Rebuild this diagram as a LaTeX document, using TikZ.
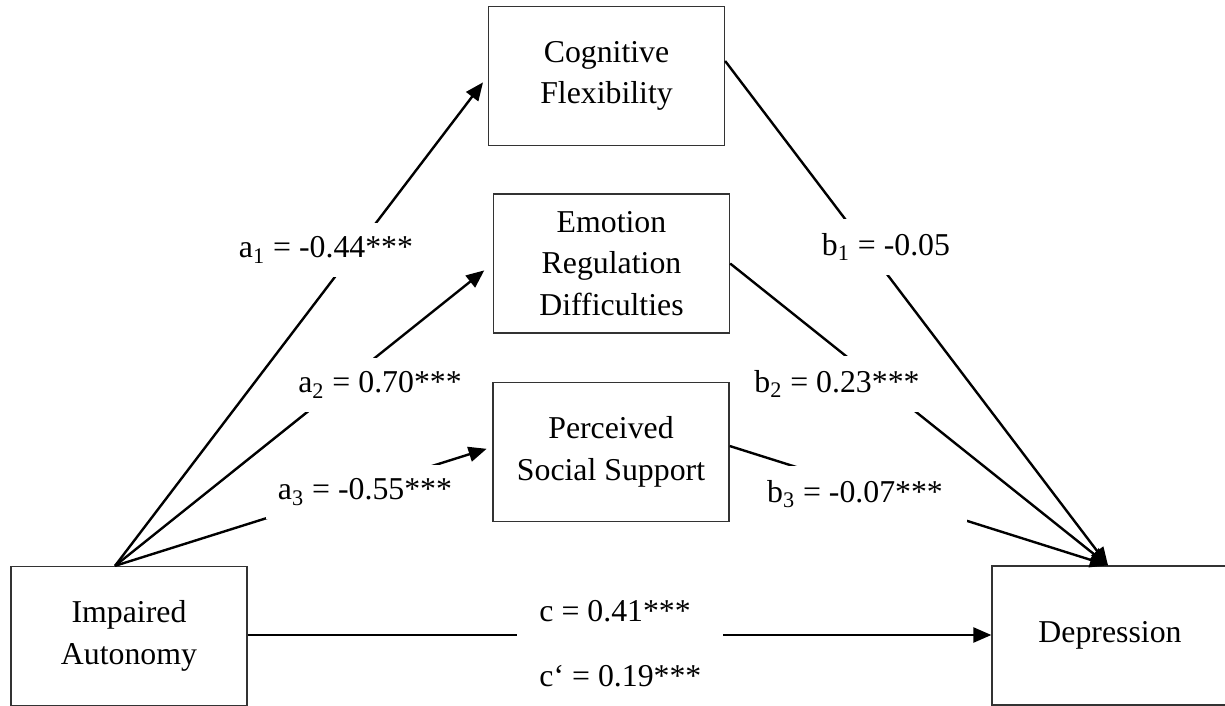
\documentclass[tikz,border=0pt]{standalone}
\usepackage{fontspec}
\setmainfont{Liberation Serif}
\usetikzlibrary{arrows.meta}
\begin{document}
\begin{tikzpicture}[x=0.5pt,y=-0.5pt,
  every node/.style={font=\fontsize{15.9}{20.8}\selectfont},
  varbox/.style={draw=black!80, line width=0.65pt, minimum width=118pt, minimum height=69.5pt, align=center, inner sep=0pt},
  effect/.style={line width=1.2pt, -{Triangle[length=9pt,width=7.5pt]}},
  lab/.style={fill=white, inner xsep=6pt, inner ysep=7pt}]
\useasboundingbox (0,0) rectangle (1225,706);
% variables
\node[varbox] (ia)  at (129,636)   {Impaired\\Autonomy};
\node[varbox] (cf)  at (606.5,76)  {Cognitive\\Flexibility};
\node[varbox] (erd) at (611.5,263.5) {Emotion\\Regulation\\Difficulties};
\node[varbox] (pss) at (611,452)   {Perceived\\Social Support};
\node[varbox] (dep) at (1110,635.5) {Depression};
% anchor points
\coordinate (src) at ([xshift=-7pt]ia.north);
\coordinate (tip) at ([xshift=-1pt]dep.north);
% a paths
\draw[effect, shorten >=4pt] (src) -- (cf.west);
\draw[effect, shorten >=5.5pt] (src) -- (erd.west);
\draw[effect, shorten >=3pt] (src) -- ([yshift=2.5pt]pss.west);
% b paths
\draw[effect] ([yshift=7.5pt]cf.east) -- (tip);
\draw[effect] (erd.east) -- (tip);
\draw[effect] ([yshift=3pt]pss.east) -- (tip);
% c path
\draw[effect] (ia.east |- 0,635) -- (dep.west |- 0,635);
% labels
\node[lab] (la1) at (326,250) {a\textsubscript{1} = -0.44***};
\node[lab] (la2) at (380,385) {a\textsubscript{2} = 0.70***};
\node[lab] (la3) at (365,492) {a\textsubscript{3} = -0.55***};
\node[lab] (lb1) at (886,247) {b\textsubscript{1} = -0.05};
\node[lab] (lb2) at (837,384) {b\textsubscript{2} = 0.23***};
\node[lab, inner xsep=12pt] (lb3) at (855,494) {b\textsubscript{3} = -0.07***};
\node[fill=white, anchor=north west, inner xsep=10pt, inner ysep=9pt, minimum width=103pt, minimum height=66pt, align=left, font=\fontsize{15.9}{32.5}\selectfont] (lc) at (517,577) {c = 0.41***\\c‘ = 0.19***};
\end{tikzpicture}
\end{document}
